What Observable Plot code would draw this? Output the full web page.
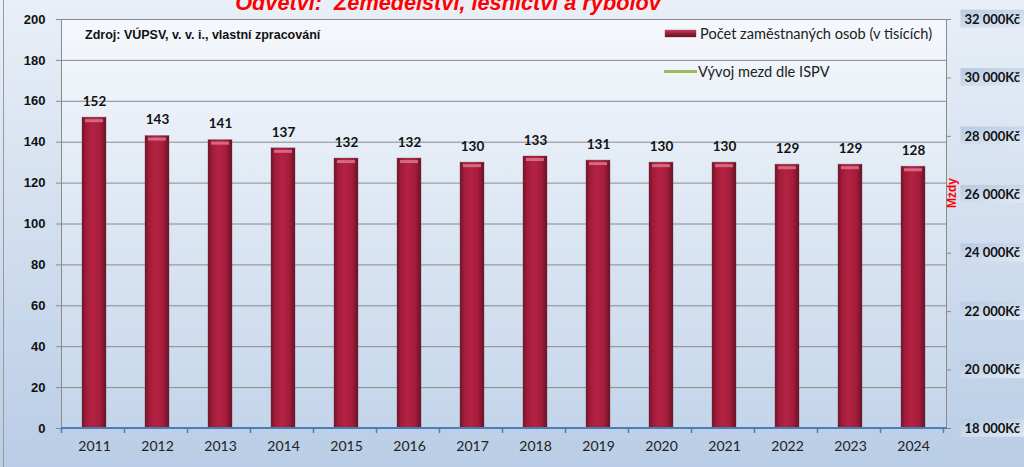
<!DOCTYPE html>
<html><head><meta charset="utf-8">
<script src="https://cdn.jsdelivr.net/npm/d3@7"></script>
<script src="https://cdn.jsdelivr.net/npm/@observablehq/plot@0.6"></script>
<style>
html,body{margin:0;padding:0;}
body{width:1024px;height:467px;overflow:hidden;background:linear-gradient(#e9eff7,#b9cde6);}
#wrap{position:relative;width:1024px;height:467px;}
#wrap svg{position:absolute;left:0;top:0;}
.abs{position:absolute;white-space:pre;}
#title{left:0;width:896px;text-align:center;top:-8px;font:italic bold 21.7px/21.7px "Liberation Sans",Arial,sans-serif;color:#ff0000;}
#source{left:85px;top:28px;font:bold 12.5px/14px "Liberation Sans",Arial,sans-serif;color:#111;}
#mzdy{left:938px;top:187px;font:bold 12px/14px "Liberation Sans",Arial,sans-serif;color:#ff0000;transform:rotate(-90deg);transform-origin:50% 50%;width:28px;text-align:center;}
.leg{font:14.6px/16px Lato,"Open Sans",sans-serif;color:#222;}
#leftborder{left:3px;top:0;width:1px;height:467px;background:#9a9a9a;}
</style></head>
<body><div id="wrap">
<div id="leftborder" class="abs"></div>
</div>
<script>
const years = ["2011","2012","2013","2014","2015","2016","2017","2018","2019","2020","2021","2022","2023","2024"];
const employees = [152,143,141,137,132,132,130,133,131,130,130,129,129,128];
const leftTicks = [0,20,40,60,80,100,120,140,160,180,200];
const wageTicks = [18000,20000,22000,24000,26000,28000,30000,32000];
const wageDomain = [18000,32000];
const titleText = "Odvětví:  Zemědělství, lesnictví a rybolov";
const sourceText = "Zdroj: VÚPSV, v. v. i., vlastní zpracování";
const legendBars = "Počet zaměstnaných osob (v tisících)";
const legendLine = "Vývoj mezd dle ISPV";
const rightAxisLabel = "Mzdy";

const data = years.map((y,i)=>({year:y, value:employees[i]}));
const toLeft = w => (w - wageDomain[0])/(wageDomain[1]-wageDomain[0])*200;
const fromLeft = v => wageDomain[0] + v/200*(wageDomain[1]-wageDomain[0]);
const fmtWage = w => d3.format(",")(Math.round(w)).replace(/,/g," ") + "Kč";

const plot = Plot.plot({
  width:1024, height:467,
  marginLeft:61, marginRight:78, marginTop:19, marginBottom:39,
  style:{background:"transparent", fontFamily:"Lato, sans-serif", overflow:"visible"},
  x:{type:"band", domain:years, paddingInner:0.62, paddingOuter:0.31, label:null},
  y:{domain:[0,200], label:null},
  marks:[
    Plot.frame({fill:"url(#plotBg)", stroke:null}),
    Plot.gridY(leftTicks, {stroke:"#8a8a8a", strokeOpacity:1, strokeWidth:1}),
    Plot.barY(data, {x:"year", y:"value", fill:"url(#barGrad)", stroke:"#5a3a44", strokeOpacity:0.35, strokeWidth:1}),
    Plot.tickY(data, {x:"year", y:"value", stroke:"#e07a92", strokeWidth:3, dy:3, inset:3, strokeOpacity:0.8}),
    Plot.text(data, {x:"year", y:"value", text:d=>String(d.value), dy:-16, fontWeight:"bold", fontSize:13.5, fill:"#111", fontFamily:"Lato, sans-serif"}),
    Plot.axisY({ticks:leftTicks, tickSize:5, tickPadding:11, stroke:"#8a8a8a", fontSize:13, fontWeight:"bold", fontFamily:"Liberation Sans, Arial, sans-serif", fill:"#111", label:null}),
    Plot.axisY({anchor:"right", ticks:wageTicks.map(toLeft), tickFormat:v=>fmtWage(fromLeft(v)), tickSize:4, tickPadding:14, stroke:"#8a8a8a", fontSize:13, fontWeight:"bold", fontFamily:"Lato, sans-serif", fill:"#111", label:null}),
    Plot.axisX({tickSize:0, tickPadding:13, fontSize:14, fontFamily:"Lato, sans-serif", fill:"#222", label:null})
  ]
});

const svg = d3.select(plot);
const defs = svg.insert("defs", ":first-child");
const bg = defs.append("linearGradient").attr("id","plotBg").attr("x1",0).attr("y1",0).attr("x2",0).attr("y2",1);
bg.append("stop").attr("offset","0%").attr("stop-color","#f5f8fc");
bg.append("stop").attr("offset","100%").attr("stop-color","#c4d5ea");
const bar = defs.append("linearGradient").attr("id","barGrad").attr("x1",0).attr("y1",0).attr("x2",1).attr("y2",0);
[["0%","#741329"],["18%","#a31c3a"],["45%","#b42242"],["75%","#a51d3b"],["100%","#6c1127"]].forEach(([o,c])=>bar.append("stop").attr("offset",o).attr("stop-color",c));
const lab = defs.append("linearGradient").attr("id","labBg").attr("x1",0).attr("y1",0).attr("x2",1).attr("y2",1);
lab.append("stop").attr("offset","0%").attr("stop-color","#b6cae3");
lab.append("stop").attr("offset","100%").attr("stop-color","#e6edf6");

const xs = plot.scale("x"), ys = plot.scale("y");
const [x0, x1] = xs.range;
const yTop = ys.apply(200), yBot = ys.apply(0);
const step = xs.step;
const g = svg.append("g");
g.append("line").attr("x1",x0+0.5).attr("x2",x0+0.5).attr("y1",yTop).attr("y2",yBot).attr("stroke","#8a8a8a");
g.append("line").attr("x1",x1+0.5).attr("x2",x1+0.5).attr("y1",yTop).attr("y2",yBot).attr("stroke","#8a8a8a");
g.append("line").attr("x1",x0).attr("x2",x1+1).attr("y1",yBot).attr("y2",yBot).attr("stroke","#4a7ebb").attr("stroke-width",2);
for (let i=0;i<=years.length;i++){
  const bx = Math.round(x0 + i*step) + 0.5;
  g.append("line").attr("x1",bx).attr("x2",bx).attr("y1",yBot).attr("y2",yBot+5).attr("stroke","#4a7ebb").attr("stroke-width",1.5);
}

const wrap = document.getElementById("wrap");
wrap.appendChild(plot);

// right axis labels: bold + boxes (after the svg is in the document)
const wageTexts = Array.from(plot.querySelectorAll("text")).filter(t => t.textContent.includes("Kč"));
wageTexts.forEach(t => {
  t.setAttribute("font-weight","bold");
  t.style.fontWeight = "bold";
  const b = t.getBBox();
  const tr = t.getAttribute("transform");
  const r = document.createElementNS("http://www.w3.org/2000/svg","rect");
  r.setAttribute("x", b.x-4); r.setAttribute("y", b.y-1);
  r.setAttribute("width", 80); r.setAttribute("height", b.height+2);
  r.setAttribute("fill","url(#labBg)");
  if (tr) r.setAttribute("transform", tr);
  t.parentNode.insertBefore(r, t);
});

function addDiv(id, cls, text, style){
  const d = document.createElement("div");
  if (id) d.id = id;
  d.className = "abs " + (cls||"");
  d.textContent = text;
  if (style) Object.assign(d.style, style);
  wrap.appendChild(d);
  return d;
}
addDiv("title","",titleText);
addDiv("source","",sourceText);
addDiv("mzdy","",rightAxisLabel);
addDiv(null,"leg",legendBars,{left:"700px",top:"26px"});
addDiv(null,"leg",legendLine,{left:"698px",top:"64px"});
addDiv(null,"", "",{left:"665px",top:"30px",width:"31px",height:"7px",background:"linear-gradient(#c04060,#8a1a34 60%,#6a1026)",boxShadow:"0 0 1px #5a3a44"});
addDiv(null,"", "",{left:"664px",top:"70px",width:"33px",height:"3px",background:"#9bbb59"});
</script>
</body></html>
